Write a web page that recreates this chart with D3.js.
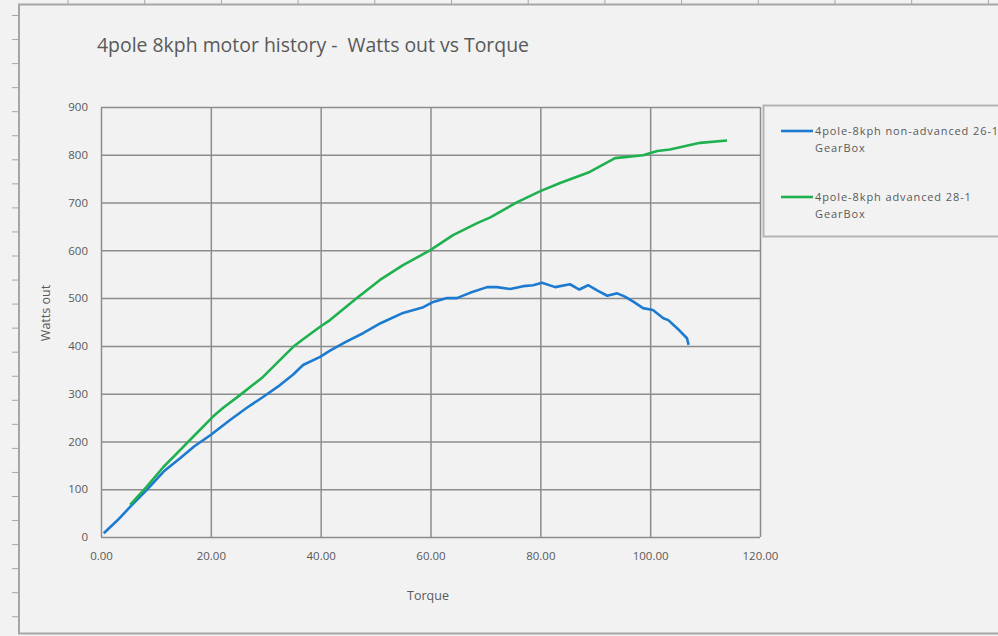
<!DOCTYPE html>
<html lang="en">
<head>
  <meta charset="UTF-8">
  <title>4pole 8kph motor history - Watts out vs Torque</title>
  <script src="https://cdnjs.cloudflare.com/ajax/libs/d3/7.8.5/d3.min.js"></script>
  <style>
    html, body {
      margin: 0;
      padding: 0;
      background: #f2f2f2;
      overflow: hidden;
    }
    svg text {
      font-family: "Open Sans", "Liberation Sans", sans-serif;
      fill: #595959;
    }
    .grid line {
      stroke: #8c8c8c;
      stroke-width: 1.5;
    }
    .grid .domain {
      display: none;
    }
  </style>
</head>
<body>
  <div id="chart"></div>

  <script>
    // series
    const blueTorque = [0.5, 3, 5.3, 8.3, 11.4, 14.4, 17, 19.9, 23.5, 26.5, 29.5, 32.6, 35, 36.8, 39.9, 41.7,
      44.5, 47.8, 51, 55, 58.7, 60.5, 63, 64.8, 67.2, 70.3, 72.1, 74.5, 76.9, 78.7, 80.3, 82.7, 85.4,
      87.1, 88.7, 90.5, 92.2, 94, 95.4, 97, 98.7, 100.5, 102.4, 103.3, 105, 106.7, 107];
    const blueWatts = [8, 35, 63, 98, 137, 165, 190, 213, 245, 270, 293, 318, 340, 360, 377, 390,
      408, 427, 448, 469, 481, 492, 500, 500, 511, 523, 523, 519, 525, 527, 532, 523, 529,
      518, 527, 515, 505, 510, 503, 492, 479, 475, 458, 454, 436, 416, 402];

    const greenTorque = [5.3, 8.3, 11.4, 14.4, 16.2, 20.4, 22.2, 25.3, 29.5, 35, 36.8, 39.9, 41.7, 46.6,
      50.8, 55, 59.9, 64.1, 68.5, 70.9, 75.8, 80, 83.6, 89, 93.6, 98.7, 101.3, 103.6, 109.1, 114];
    const greenWatts = [67, 105, 147, 182, 203, 252, 270, 297, 335, 398, 414, 440, 454, 500,
      538, 569, 600, 632, 657, 669, 701, 724, 741, 764, 793, 799, 808, 811, 825, 830];

    const xTicks = [0, 20, 40, 60, 80, 100, 120];
    const yTicks = [0, 100, 200, 300, 400, 500, 600, 700, 800, 900];
    const seriesNames = [
      ["4pole-8kph non-advanced 26-1", "GearBox"],
      ["4pole-8kph advanced 28-1", "GearBox"]
    ];
    const seriesColors = ["#1c7bd0", "#1fb04f"];

    const width = 998, height = 636;
    const svg = d3.select("#chart").append("svg")
      .attr("width", width)
      .attr("height", height);

    // outer chart frame with the sheet ruler marks
    svg.append("g")
      .selectAll("line")
      .data(d3.range(15.5, height, 24.05))
      .join("line")
        .attr("x1", 12).attr("x2", 18)
        .attr("y1", d => d).attr("y2", d => d)
        .attr("stroke", "#a6a6a6");
    svg.append("g")
      .selectAll("line")
      .data(d3.range(68, width, 76.7))
      .join("line")
        .attr("x1", d => d).attr("x2", d => d)
        .attr("y1", 0).attr("y2", 4)
        .attr("stroke", "#a6a6a6");
    svg.append("rect")
      .attr("x", 19).attr("y", 4.5)
      .attr("width", 1100).attr("height", 629)
      .attr("fill", "#f2f2f2")
      .attr("stroke", "#a6a6a6")
      .attr("stroke-width", 2);

    const x = d3.scaleLinear().domain([0, 120]).range([101, 760]);
    const y = d3.scaleLinear().domain([0, 900]).range([537, 107]);

    svg.append("g")
      .attr("class", "grid")
      .attr("transform", `translate(0,${y(0)})`)
      .call(d3.axisBottom(x).tickValues(xTicks).tickSize(-(y(0) - y(900))).tickFormat(""));
    svg.append("g")
      .attr("class", "grid")
      .attr("transform", `translate(${x(0)},0)`)
      .call(d3.axisLeft(y).tickValues(yTicks).tickSize(-(x(120) - x(0))).tickFormat(""));

    // tick labels
    const xAxis = svg.append("g")
      .attr("transform", `translate(0,${y(0)})`)
      .call(d3.axisBottom(x).tickValues(xTicks).tickSize(0).tickPadding(15).tickFormat(d3.format(".2f")));
    const yAxis = svg.append("g")
      .attr("transform", `translate(${x(0)},0)`)
      .call(d3.axisLeft(y).tickValues(yTicks).tickSize(0).tickPadding(13).tickFormat(d3.format("d")));
    [xAxis, yAxis].forEach(a => {
      a.select(".domain").remove();
      a.selectAll("text")
        .attr("fill", "#595959")
        .style("font-size", "11.5px");
    });

    const line = d3.line()
      .x(d => x(d[0]))
      .y(d => y(d[1]));

    const series = [
      d3.zip(blueTorque, blueWatts),
      d3.zip(greenTorque, greenWatts)
    ];

    svg.append("g")
      .selectAll("path")
      .data(series)
      .join("path")
        .attr("d", line)
        .attr("fill", "none")
        .attr("stroke", (d, i) => seriesColors[i])
        .attr("stroke-width", 2.6)
        .attr("stroke-linejoin", "round");

    // titles
    svg.append("text")
      .attr("x", 97)
      .attr("y", 52)
      .attr("textLength", 432)
      .attr("lengthAdjust", "spacingAndGlyphs")
      .style("font-size", "20px")
      .style("white-space", "pre")
      .text("4pole 8kph motor history -  Watts out vs Torque");

    svg.append("text")
      .attr("x", 428)
      .attr("y", 600)
      .attr("text-anchor", "middle")
      .style("font-size", "12.5px")
      .text("Torque");

    svg.append("text")
      .attr("transform", "translate(50,313) rotate(-90)")
      .attr("text-anchor", "middle")
      .style("font-size", "12.5px")
      .text("Watts out");

    // legend
    const legend = svg.append("g");
    legend.append("rect")
      .attr("x", 763.5).attr("y", 105.5)
      .attr("width", 300).attr("height", 131)
      .attr("fill", "#f2f2f2")
      .attr("stroke", "#b4b4b4")
      .attr("stroke-width", 2);

    const items = legend.selectAll("g.item")
      .data(seriesNames)
      .join("g")
        .attr("class", "item")
        .attr("transform", (d, i) => `translate(0,${131 + i * 66})`);
    items.append("line")
      .attr("x1", 781).attr("x2", 813)
      .attr("stroke", (d, i) => seriesColors[i])
      .attr("stroke-width", 2.6);
    items.selectAll("text")
      .data(d => d)
      .join("text")
        .attr("x", 815)
        .attr("y", (d, j) => 4 + j * 17)
        .style("font-size", "11px")
        .style("letter-spacing", "0.9px")
        .text(d => d);
  </script>
</body>
</html>
